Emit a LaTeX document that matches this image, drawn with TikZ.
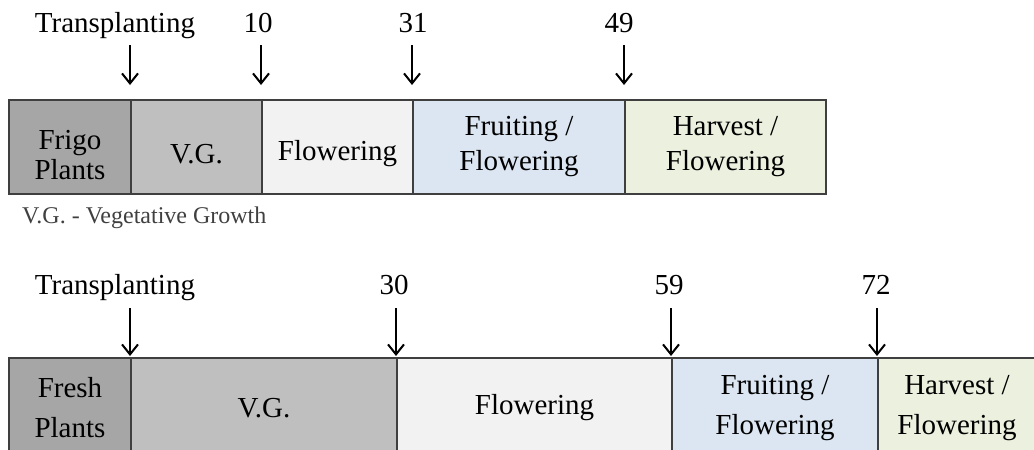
\documentclass[tikz,border=0pt]{standalone}
\usepackage{fontspec}
\setmainfont{Liberation Serif}
\usetikzlibrary{arrows.meta}
\definecolor{cPlant}{HTML}{A6A6A6}
\definecolor{cVG}{HTML}{BFBFBF}
\definecolor{cFlow}{HTML}{F2F2F2}
\definecolor{cFruit}{HTML}{DCE6F2}
\definecolor{cHarv}{HTML}{EBF1DE}
\definecolor{cLine}{HTML}{3F3F3F}
\tikzset{
  seg/.style={draw=cLine, line width=2pt, anchor=north west, inner sep=0pt},
  toprow/.style={seg, minimum height=94pt},
  botrow/.style={seg, minimum height=96pt},
  txt/.style={inner sep=0pt, align=center, text=black},
  tA/.style={txt, font=\fontsize{29}{30}\selectfont},
  tB/.style={txt, font=\fontsize{29}{35}\selectfont},
  tC/.style={txt, font=\fontsize{29}{40}\selectfont},
  lbl/.style={anchor=base, inner sep=0pt, font=\fontsize{29}{31}\selectfont},
  arr/.style={line width=2pt, -{Straight Barb[length=10pt,width=16pt,line width=2pt]}},
  legend/.style={anchor=base west, inner sep=0pt, text=black!75, font=\fontsize{24}{26}\selectfont}
}
\begin{document}
\begin{tikzpicture}[x=1pt,y=-1pt]
\useasboundingbox (0,0) rectangle (1034,450);
\clip (0,0) rectangle (1034,450);
% top row
\node[toprow, fill=cPlant, minimum width=122pt] (f1) at (8,99) {};
\node[toprow, fill=cVG,    minimum width=131pt] (f2) at (130,99) {};
\node[toprow, fill=cFlow,  minimum width=151pt] (f3) at (261,99) {};
\node[toprow, fill=cFruit, minimum width=212pt] (f4) at (412,99) {};
\node[toprow, fill=cHarv,  minimum width=201pt] (f5) at (624,99) {};
\node[tA] (f1t) at ([yshift=-8pt]f1.center) {Frigo\\Plants};
\node[tA] (f2t) at ([yshift=-7pt]f2.center) {V.G.};
\node[tA] (f3t) at ([yshift=-7pt]f3.center) {Flowering};
\node[tB] (f4t) at (f4.center) {Fruiting /\\Flowering};
\node[tB] (f5t) at (f5.center) {Harvest /\\Flowering};
% top labels
\node[lbl] (tl1) at (115,32) {Transplanting};
\node[lbl] (tl2) at (258,32) {10};
\node[lbl] (tl3) at (413,32) {31};
\node[lbl] (tl4) at (619,32) {49};
\coordinate (ta1) at (130,45);
\coordinate (ta2) at (261,45);
\coordinate (ta3) at (412,45);
\coordinate (ta4) at (624,45);
\draw[arr, shorten >=14pt] (ta1) -- (f2.north west);
\draw[arr, shorten >=14pt] (ta2) -- (f3.north west);
\draw[arr, shorten >=14pt] (ta3) -- (f4.north west);
\draw[arr, shorten >=14pt] (ta4) -- (f5.north west);
% legend
\node[legend] (leg) at (22,223) {V.G. - Vegetative Growth};
% bottom row
\node[botrow, fill=cPlant, minimum width=122pt] (g1) at (8,357) {};
\node[botrow, fill=cVG,    minimum width=266pt] (g2) at (130,357) {};
\node[botrow, fill=cFlow,  minimum width=275pt] (g3) at (396,357) {};
\node[botrow, fill=cFruit, minimum width=206pt] (g4) at (671,357) {};
\node[botrow, fill=cHarv,  minimum width=158pt] (g5) at (877,357) {};
\node[tC] (g1t) at ([yshift=-2pt]g1.center) {Fresh\\Plants};
\node[tC] (g2t) at ([yshift=-2pt]g2.center) {V.G.};
\node[tC] (g3t) at ([yshift=-2pt]g3.center) {Flowering};
\node[tC] (g4t) at ([yshift=-2pt]g4.center) {Fruiting /\\Flowering};
\node[tC] (g5t) at ([yshift=-2pt]g5.center) {Harvest /\\Flowering};
% bottom labels
\node[lbl] (bl1) at (115,294) {Transplanting};
\node[lbl] (bl2) at (394,294) {30};
\node[lbl] (bl3) at (669,294) {59};
\node[lbl] (bl4) at (876,294) {72};
\coordinate (ba1) at (130,308);
\coordinate (ba2) at (396,308);
\coordinate (ba3) at (671,308);
\coordinate (ba4) at (877,308);
\draw[arr, shorten >=1pt] (ba1) -- (g2.north west);
\draw[arr, shorten >=1pt] (ba2) -- (g3.north west);
\draw[arr, shorten >=1pt] (ba3) -- (g4.north west);
\draw[arr, shorten >=1pt] (ba4) -- (g5.north west);
\end{tikzpicture}
\end{document}
